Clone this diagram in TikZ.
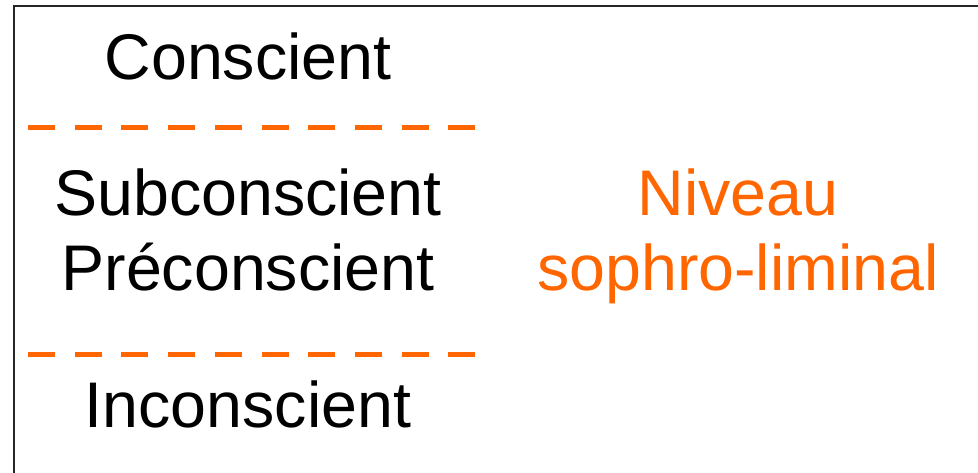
\documentclass[tikz,border=0pt]{standalone}
\usepackage{fontspec}
\setmainfont{Liberation Sans}
\usepackage{xcolor}
\usetikzlibrary{positioning}
\definecolor{sophro}{HTML}{FF6600}

\begin{document}
\begin{tikzpicture}[x=1pt,y=-1pt,
    level/.style={inner sep=0pt,anchor=base,align=center,font=\fontsize{64.5}{75}\selectfont},
    seuil/.style={draw=sophro,line width=5pt,dash pattern=on 27pt off 19.7pt}]
    \useasboundingbox (0,0) rectangle (978,472);
    \draw[line width=2pt,black!85] (14,480) -- (14,6) -- (990,6);

    \node[level] (consc) at (248,79) {Conscient};
    \node[level] (subc) at (248,290) {Subconscient\\Préconscient};
    \node[level] (inconsc) at (248,427) {Inconscient};
    \node[level,text=sophro] (niveau) at (738,290) {Niveau\\sophro-liminal};

    \coordinate (s1a) at (28,127);
    \coordinate (s1b) at (476,127);
    \coordinate (s2a) at (28,354);
    \coordinate (s2b) at (476,354);
    \draw[seuil] (s1a) -- (s1b);
    \draw[seuil] (s2a) -- (s2b);
\end{tikzpicture}
\end{document}
